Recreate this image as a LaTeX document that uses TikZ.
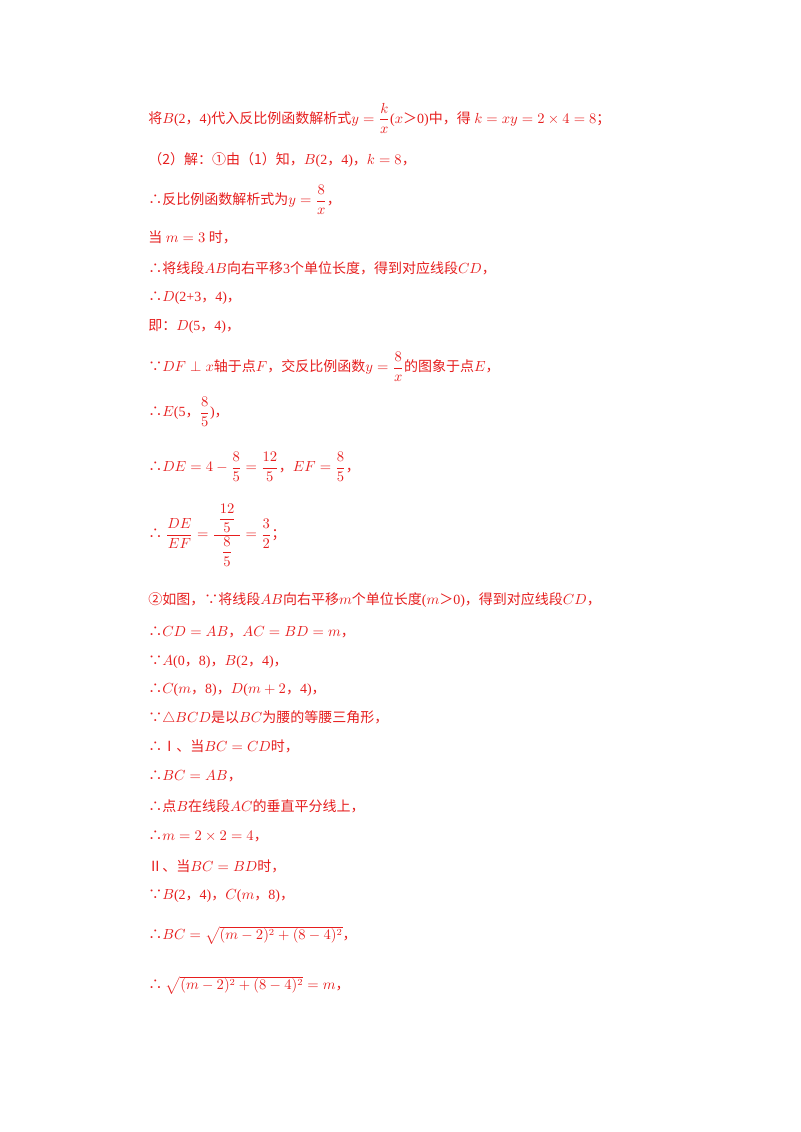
\documentclass[tikz,border=0pt]{standalone}
\usepackage{amsmath}
\usepackage{fontspec}
\setmainfont{Liberation Serif}
\newfontfamily\cjk{Noto Sans CJK SC}
\newcommand{\z}[1]{{\cjk #1}}
\definecolor{ink}{RGB}{230,30,30}
\begin{document}
\begin{tikzpicture}[x=0.75pt,y=-0.75pt]
\useasboundingbox (0,0) rectangle (800,1132);
\tikzset{ln/.style={anchor=west,inner sep=0,text=ink,font=\fontsize{10.5}{12}\selectfont}}
\node[ln] (l1) at (148,118) {\z{将}$B$(2\z{，}4)\z{代入反比例函数解析式}$y=\dfrac{k}{x}$($x$\z{＞}0)\z{中，得} $k=xy=2\times4=8$\z{；}};
\node[ln] (l2) at (148,160) {\z{（2）解：①由（1）知，}$B$(2\z{，}4)\z{，}$k=8$\z{，}};
\node[ln] (l3) at (148,200) {\z{∴反比例函数解析式为}$y=\dfrac{8}{x}$\z{，}};
\node[ln] (l4) at (148,237) {\z{当} $m=3$ \z{时，}};
\node[ln] (l5) at (148,268) {\z{∴将线段}$AB$\z{向右平移}3\z{个单位长度，得到对应线段}$CD$\z{，}};
\node[ln] (l6) at (148,298) {\z{∴}$D$(2+3\z{，}4)\z{，}};
\node[ln] (l7) at (148,326) {\z{即：}$D$(5\z{，}4)\z{，}};
\node[ln] (l8) at (148,367) {\z{∵}$DF\perp x$\z{轴于点}$F$\z{，交反比例函数}$y=\dfrac{8}{x}$\z{的图象于点}$E$\z{，}};
\node[ln] (l9) at (148,412) {\z{∴}$E$(5\z{，}$\dfrac{8}{5}$)\z{，}};
\node[ln] (l10) at (148,467) {\z{∴}$DE=4-\dfrac{8}{5}=\dfrac{12}{5}$\z{，}$EF=\dfrac{8}{5}$\z{，}};
\node[ln] (l11) at (148,535) {\z{∴} $\dfrac{DE}{EF}=\dfrac{\;\dfrac{12}{5}\;}{\dfrac{8}{5}}=\dfrac{3}{2}$\z{；}};
\node[ln] (l12) at (148,600) {\z{②如图，∵将线段}$AB$\z{向右平移}$m$\z{个单位长度}($m$\z{＞}0)\z{，得到对应线段}$CD$\z{，}};
\node[ln] (l13) at (148,632) {\z{∴}$CD=AB$\z{，}$AC=BD=m$\z{，}};
\node[ln] (l14) at (148,662) {\z{∵}$A$(0\z{，}8)\z{，}$B$(2\z{，}4)\z{，}};
\node[ln] (l15) at (148,690) {\z{∴}$C$($m$\z{，}8)\z{，}$D$($m+2$\z{，}4)\z{，}};
\node[ln] (l16) at (148,718) {\z{∵}$\triangle BCD$\z{是以}$BC$\z{为腰的等腰三角形，}};
\node[ln] (l17) at (148,746) {\z{∴Ⅰ、当}$BC=CD$\z{时，}};
\node[ln] (l18) at (148,776) {\z{∴}$BC=AB$\z{，}};
\node[ln] (l19) at (148,806) {\z{∴点}$B$\z{在线段}$AC$\z{的垂直平分线上，}};
\node[ln] (l20) at (148,836) {\z{∴}$m=2\times2=4$\z{，}};
\node[ln] (l21) at (148,866) {\z{Ⅱ、当}$BC=BD$\z{时，}};
\node[ln] (l22) at (148,896) {\z{∵}$B$(2\z{，}4)\z{，}$C$($m$\z{，}8)\z{，}};
\node[ln] (l23) at (148,935) {\z{∴}$BC=\sqrt{(m-2)^2+(8-4)^2}$\z{，}};
\node[ln] (l24) at (148,985) {\z{∴} $\sqrt{(m-2)^2+(8-4)^2}=m$\z{，}};
\end{tikzpicture}
\end{document}
